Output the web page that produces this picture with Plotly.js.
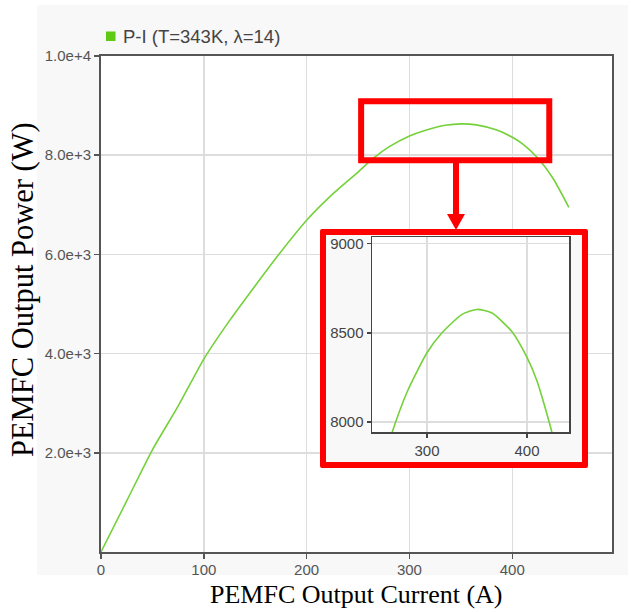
<!DOCTYPE html>
<html>
<head>
<meta charset="utf-8">
<script src="https://cdn.plot.ly/plotly-3.0.1.min.js"></script>
<style>
  body { margin: 0; background: #ffffff; }
  #wrap { position: relative; width: 631px; height: 612px; }
  #main { position: absolute; left: 0; top: 0; width: 631px; height: 612px; }
  #inset {
    position: absolute; left: 320px; top: 229px; width: 268px; height: 239px;
    box-sizing: border-box; border: 6px solid #ff0000; border-radius: 2px;
    background: #f8f8f8;
  }
  #insetPlot { width: 256px; height: 227px; }
</style>
</head>
<body>
<div id="wrap">
  <div id="main"></div>
  <div id="inset"><div id="insetPlot"></div></div>
</div>
<script>
// Stack output current (A) and output power (W)
const current = [0, 25, 50, 75, 100, 125, 150, 175, 200, 225, 250, 265, 280, 300, 315, 335, 350, 365, 385, 400, 410, 425, 440, 455];
const power   = [0, 1030, 2060, 2940, 3890, 4665, 5370, 6055, 6690, 7210, 7660, 7940, 8167, 8388, 8500, 8603, 8631, 8611, 8506, 8362, 8230, 7940, 7520, 6950];
const seriesName = 'P-I (T=343K, \u03bb=14)';
const xTitle = 'PEMFC Output Current (A)';
const yTitle = 'PEMFC Output Power (W)';

const xTicks = [0, 100, 200, 300, 400];
const yTicks = [2000, 4000, 6000, 8000, 10000];
const insetXTicks = [300, 400];
const insetYTicks = [8000, 8500, 9000];

const GREEN = '#74d13a';
const RED = '#ff0000';
const SANS = 'Liberation Sans, Arial, sans-serif';
const SERIF = 'Liberation Serif, Times New Roman, serif';

// Main figure geometry (pixels) and helpers to place decorations in paper units
const FW = 631, FH = 612;
const M = { l: 101, r: 19, t: 56, b: 60 };
const PW = FW - M.l - M.r, PH = FH - M.t - M.b;
const px = x => (x - M.l) / PW;
const py = y => (FH - M.b - y) / PH;

const axisCommon = {
  showgrid: true, gridcolor: '#dddddd', gridwidth: 1.5,
  zeroline: false, showline: true, linecolor: '#555555', linewidth: 2, mirror: true,
  ticks: 'outside', ticklen: 5, tickwidth: 1.5, tickcolor: '#555555',
  tickfont: { family: SANS, size: 15, color: '#555555' }
};

const mainTrace = {
  type: 'scatter', mode: 'lines', x: current, y: power, name: seriesName,
  line: { color: GREEN, width: 1.6, shape: 'spline', smoothing: 0.6 }, showlegend: false
};

const mainLayout = {
  width: FW, height: FH, margin: M,
  paper_bgcolor: '#ffffff', plot_bgcolor: '#ffffff',
  showlegend: false,
  xaxis: Object.assign({}, axisCommon, { range: [0, 497], tickvals: xTicks, ticklabelstandoff: -2 }),
  yaxis: Object.assign({}, axisCommon, { range: [0, 10000], tickvals: yTicks, tickformat: '.1e' }),
  shapes: [
    // light panel behind the chart
    { type: 'rect', xref: 'paper', yref: 'paper', layer: 'below',
      x0: px(37), x1: px(628), y0: py(575), y1: py(5),
      fillcolor: '#f8f8f8', line: { width: 0 } },
    // white plotting area
    { type: 'rect', xref: 'paper', yref: 'paper', layer: 'below',
      x0: 0, x1: 1, y0: 0, y1: 1, fillcolor: '#ffffff', line: { width: 0 } },
    // legend swatch
    { type: 'rect', xref: 'paper', yref: 'paper', layer: 'above',
      x0: px(106), x1: px(115.5), y0: py(41), y1: py(31.5),
      fillcolor: '#5ecb12', line: { width: 0 } },
    // highlighted peak region
    { type: 'rect', xref: 'x', yref: 'y', layer: 'above',
      x0: 253, x1: 436, y0: 7900, y1: 9090,
      fillcolor: 'rgba(0,0,0,0)', line: { color: RED, width: 6 } },
    // arrow shaft
    { type: 'line', xref: 'paper', yref: 'paper', layer: 'above',
      x0: px(456), x1: px(456), y0: py(162), y1: py(217),
      line: { color: RED, width: 6 } },
    // arrow head
    { type: 'path', xref: 'paper', yref: 'paper', layer: 'above',
      path: 'M' + px(447) + ',' + py(214) + ' L' + px(465) + ',' + py(214) + ' L' + px(456) + ',' + py(230) + ' Z',
      fillcolor: RED, line: { color: RED, width: 0 } }
  ],
  annotations: [
    // legend label
    { xref: 'paper', yref: 'paper', x: px(121), y: py(36.5), xanchor: 'left', yanchor: 'middle',
      text: seriesName, showarrow: false, font: { family: SANS, size: 18.5, color: '#444444' } },
    // axis titles
    { xref: 'paper', yref: 'paper', x: px(356), y: py(594), xanchor: 'center', yanchor: 'middle',
      text: xTitle, showarrow: false, font: { family: SERIF, size: 26, color: '#000000' } },
    { xref: 'paper', yref: 'paper', x: px(23), y: py(290), xanchor: 'center', yanchor: 'middle',
      textangle: -90, text: yTitle, showarrow: false, font: { family: SERIF, size: 30.5, color: '#000000' } }
  ]
};

Plotly.newPlot('main', [mainTrace], mainLayout, { staticPlot: true, displayModeBar: false });

// Zoomed view of the maximum power region
const insetAxis = {
  showgrid: true, gridcolor: '#dddddd', gridwidth: 1.5,
  zeroline: false, showline: true, linecolor: '#444444', linewidth: 1.5, mirror: true,
  ticks: 'outside', ticklen: 4, tickwidth: 1.5, tickcolor: '#444444',
  ticklabeloverflow: 'allow',
  tickfont: { family: SANS, size: 15, color: '#444444' }
};

const insetTrace = {
  type: 'scatter', mode: 'lines', x: current, y: power, name: seriesName,
  line: { color: GREEN, width: 1.6, shape: 'spline', smoothing: 0.6 }
};

const insetLayout = {
  width: 256, height: 227, margin: { l: 46, r: 13, t: 2, b: 30 },
  paper_bgcolor: '#f8f8f8', plot_bgcolor: '#ffffff', showlegend: false,
  xaxis: Object.assign({}, insetAxis, { range: [245, 442], tickvals: insetXTicks }),
  yaxis: Object.assign({}, insetAxis, { range: [7944, 9037], tickvals: insetYTicks })
};

Plotly.newPlot('insetPlot', [insetTrace], insetLayout, { staticPlot: true, displayModeBar: false });
</script>
</body>
</html>
